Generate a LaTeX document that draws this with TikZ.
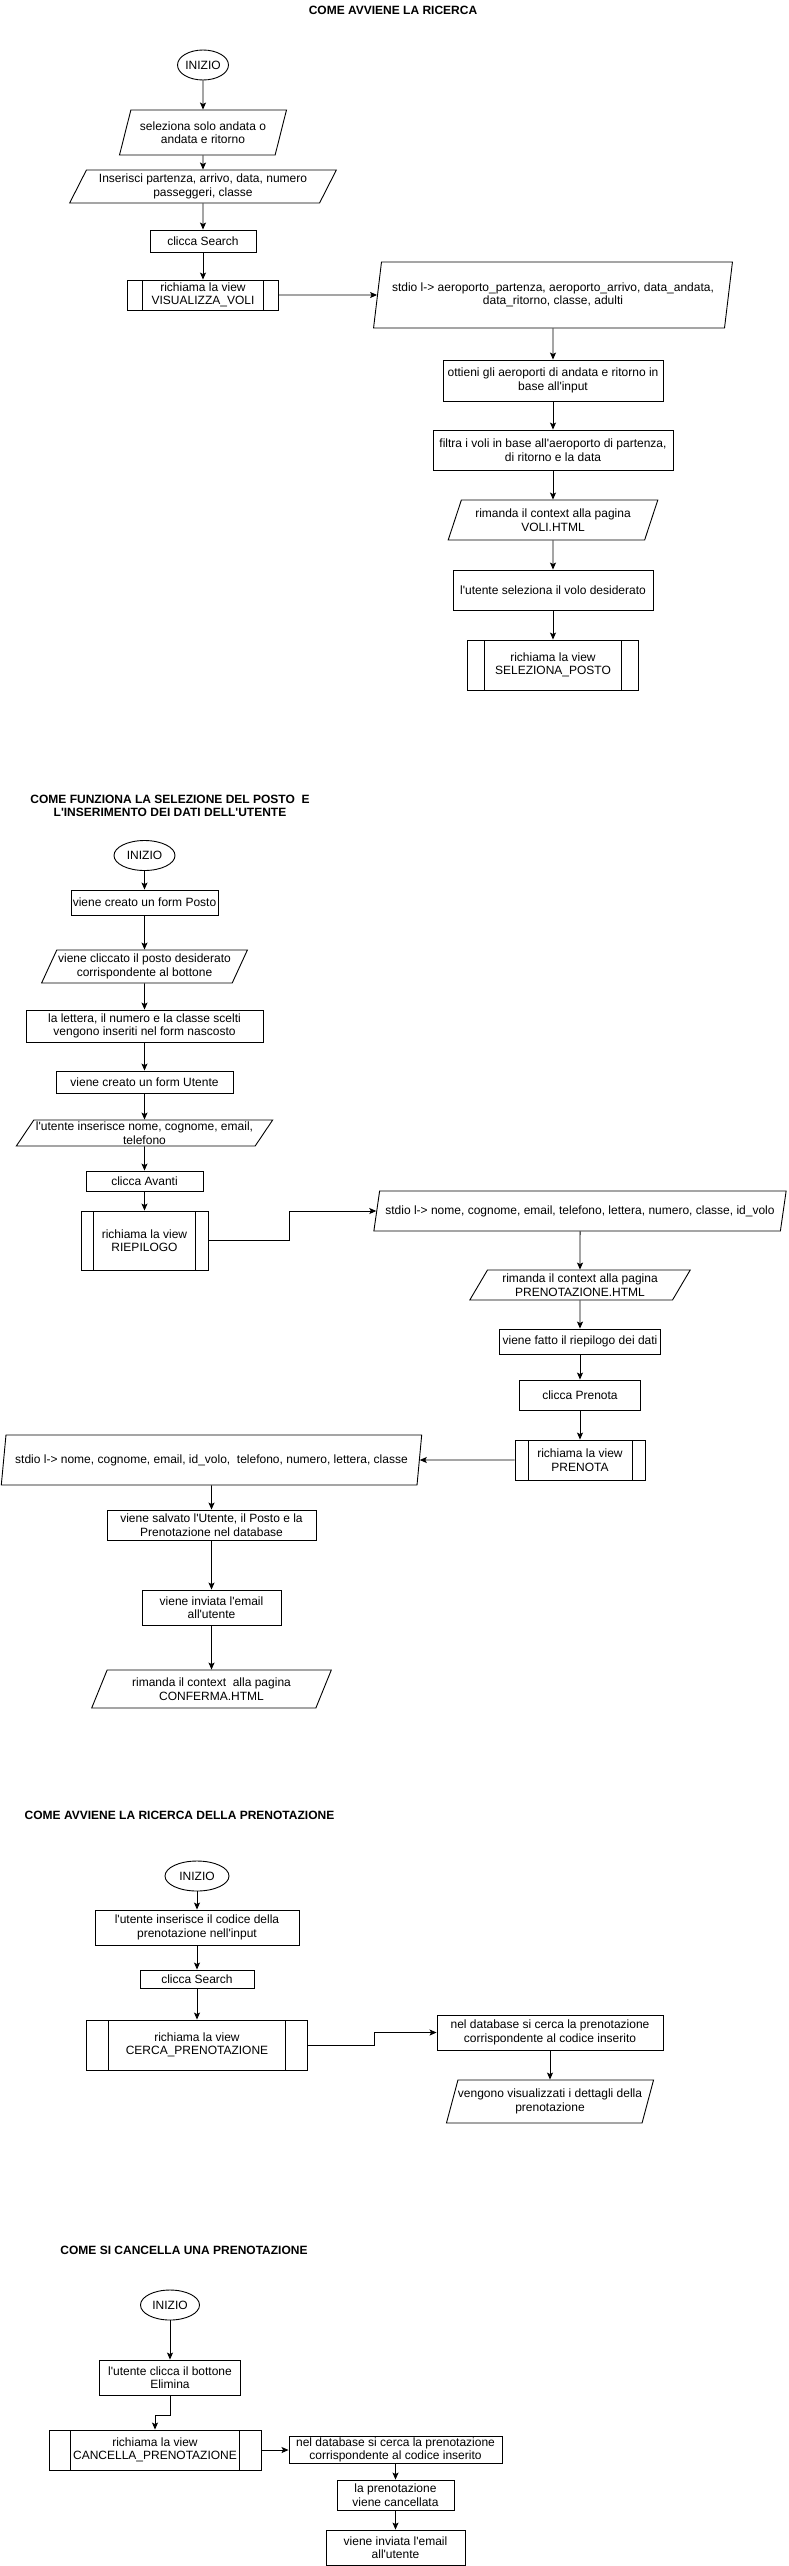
\documentclass[tikz,border=0pt]{standalone}
\usepackage{fontspec}
\setmainfont{Liberation Sans}[Ligatures=TeXOff]
\usetikzlibrary{positioning, arrows.meta, calc, shapes.geometric}

\begin{document}
\begin{tikzpicture}[x=1pt, y=-1pt,
      every node/.style={font=\fontsize{12}{13.5}\selectfont, align=center, inner sep=0pt},
      titolo/.style={font=\bfseries\fontsize{12}{13.5}\selectfont},
      inizio/.style={ellipse, draw, line width=0.9pt, minimum width=#1, minimum height=30},
      proc/.style 2 args={rectangle, draw, line width=0.9pt, minimum width=#1, minimum height=#2},
      sub/.style 2 args={proc={#1}{#2}, path picture={
          \draw[line width=0.9pt]
            ($(path picture bounding box.north west)!0.1!(path picture bounding box.north east)$) --
            ($(path picture bounding box.south west)!0.1!(path picture bounding box.south east)$)
            ($(path picture bounding box.north east)!0.1!(path picture bounding box.north west)$) --
            ($(path picture bounding box.south east)!0.1!(path picture bounding box.south west)$);}},
      io/.style 2 args={trapezium, draw, line width=0.9pt, trapezium stretches=true,
          trapezium left angle={atan(#2/20)}, trapezium right angle={180-atan(#2/20)},
          minimum width=#1, minimum height=#2},
      freccia/.style={-{Stealth[length=7pt, width=6pt, inset=1.5pt]}, line width=0.9pt}
  ]
    \fill[white] (0,0) rectangle (788,2566);
    \useasboundingbox (0,0) rectangle (788,2566);

    % ricerca
    \node[titolo](tit1) at (393,10){COME AVVIENE LA RICERCA};
    \node[inizio=51](ini1) at (203,65){INIZIO};
    \node[io={167}{45}](sel) at (203,132.5){seleziona solo andata o\\andata e ritorno};
    \node[io={267}{33}](ins) at (203,186.5){Inserisci partenza, arrivo, data, numero\\passeggeri, classe};
    \node[proc={106}{22}](cerca1) at (203,241){clicca Search};
    \node[sub={151}{30}](visvoli) at (203,295){richiama la view\\VISUALIZZA\_VOLI};
    \node[io={360}{66}](stdio1) at (553,295){stdio l-> aeroporto\_partenza, aeroporto\_arrivo, data\_andata,\\data\_ritorno, classe, adulti};
    \node[proc={220}{41}](ottieni) at (553,380.5){ottieni gli aeroporti di andata e ritorno in\\base all'input};
    \node[proc={240}{40}](filtra) at (553,450){filtra i voli in base all'aeroporto di partenza,\\di ritorno e la data};
    \node[io={210}{40}](voli) at (553,520){rimanda il context alla pagina\\VOLI.HTML};
    \node[proc={200}{40}](volo) at (553,590){l'utente seleziona il volo desiderato};
    \node[sub={171}{50}](selposto) at (553,665){richiama la view\\SELEZIONA\_POSTO};
    \draw[freccia](ini1)--(sel); \draw[freccia](sel)--(ins); \draw[freccia](ins)--(cerca1);
    \draw[freccia](cerca1)--(visvoli); \draw[freccia](visvoli)--(stdio1); \draw[freccia](stdio1)--(ottieni);
    \draw[freccia](ottieni)--(filtra); \draw[freccia](filtra)--(voli); \draw[freccia](voli)--(volo);
    \draw[freccia](volo)--(selposto);

    % selezione posto e dati utente
    \node[titolo](tit2) at (170,806){COME FUNZIONA LA SELEZIONE DEL POSTO\ \ E\\L'INSERIMENTO DEI DATI DELL'UTENTE};
    \node[inizio=61](ini2) at (144.5,855.5){INIZIO};
    \node[proc={147}{25}](fposto) at (144.5,902.5){viene creato un form Posto};
    \node[io={206}{33}](clic) at (144.5,966.5){viene cliccato il posto desiderato\\corrispondente al bottone};
    \node[proc={237}{32}](lettera) at (144.5,1026){la lettera, il numero e la classe scelti\\vengono inseriti nel form nascosto};
    \node[proc={177}{22}](futente) at (144.5,1082){viene creato un form Utente};
    \node[io={257}{26}](dati) at (144.5,1133){l'utente inserisce nome, cognome, email,\\telefono};
    \node[proc={117}{20}](avanti) at (144.5,1181){clicca Avanti};
    \node[sub={127}{59}](riep) at (144.5,1240.5){richiama la view\\RIEPILOGO};
    \node[io={414}{40}](stdio2) at (580,1211){stdio l-> nome, cognome, email, telefono, lettera, numero, classe, id\_volo};
    \node[io={221}{30}](prhtml) at (580,1285){rimanda il context alla pagina\\PRENOTAZIONE.HTML};
    \node[proc={161}{25}](riepdati) at (580,1341.5){viene fatto il riepilogo dei dati};
    \node[proc={121}{30}](prenota) at (580,1395){clicca Prenota};
    \node[sub={130}{40}](vprenota) at (580,1460){richiama la view\\PRENOTA};
    \node[io={421}{50}](stdio3) at (211.5,1460){stdio l-> nome, cognome, email, id\_volo,\ \ telefono, numero, lettera, classe};
    \node[proc={209}{30}](salva) at (211.5,1525){viene salvato l'Utente, il Posto e la\\Prenotazione nel database};
    \node[proc={139}{35}](email1) at (211.5,1607.5){viene inviata l'email\\all'utente};
    \node[io={240}{38}](conferma) at (211.5,1689){rimanda il context\ \ alla pagina\\CONFERMA.HTML};
    \draw[freccia](ini2)--(fposto); \draw[freccia](fposto)--(clic); \draw[freccia](clic)--(lettera);
    \draw[freccia](lettera)--(futente); \draw[freccia](futente)--(dati); \draw[freccia](dati)--(avanti);
    \draw[freccia](avanti)--(riep); \draw[freccia](riep.east)--++(81,0)|-(stdio2.west);
    \draw[freccia](stdio2)--(prhtml); \draw[freccia](prhtml)--(riepdati); \draw[freccia](riepdati)--(prenota);
    \draw[freccia](prenota)--(vprenota); \draw[freccia](vprenota)--(stdio3); \draw[freccia](stdio3)--(salva);
    \draw[freccia](salva)--(email1); \draw[freccia](email1)--(conferma);

    % ricerca prenotazione
    \node[titolo](tit3) at (179.5,1815){COME AVVIENE LA RICERCA DELLA PRENOTAZIONE};
    \node[inizio=64](ini3) at (197,1876){INIZIO};
    \node[proc={204}{35}](codice) at (197,1927.5){l'utente inserisce il codice della\\prenotazione nell'input};
    \node[proc={114}{18}](cerca2) at (197,1979){clicca Search};
    \node[sub={221}{50}](vcerca) at (197,2045){richiama la view\\CERCA\_PRENOTAZIONE};
    \node[proc={226}{35}](db1) at (550,2032.5){nel database si cerca la prenotazione\\corrispondente al codice inserito};
    \node[io={204}{43}](dettagli) at (550,2101.5){vengono visualizzati i dettagli della\\prenotazione};
    \draw[freccia](ini3)--(codice); \draw[freccia](codice)--(cerca2); \draw[freccia](cerca2)--(vcerca);
    \draw[freccia](vcerca.east)--++(66,0)|-(db1.west); \draw[freccia](db1)--(dettagli);

    % cancellazione
    \node[titolo](tit4) at (184,2250){COME SI CANCELLA UNA PRENOTAZIONE};
    \node[inizio=59](ini4) at (170,2305){INIZIO};
    \node[proc={141}{35}](elimina) at (170,2377.5){l'utente clicca il bottone\\Elimina};
    \node[sub={212}{40}](vcanc) at (155,2450){richiama la view\\CANCELLA\_PRENOTAZIONE};
    \node[proc={213}{27}](db2) at (395.5,2450){nel database si cerca la prenotazione\\corrispondente al codice inserito};
    \node[proc={117}{30}](cancellata) at (395.5,2495){la prenotazione\\viene cancellata};
    \node[proc={139}{35}](email2) at (395.5,2547.5){viene inviata l'email\\all'utente};
    \draw[freccia](ini4)--(elimina); \draw[freccia](elimina.south)--++(0,20)-|(vcanc.north);
    \draw[freccia](vcanc)--(db2); \draw[freccia](db2)--(cancellata); \draw[freccia](cancellata)--(email2);
  \end{tikzpicture}
\end{document}
